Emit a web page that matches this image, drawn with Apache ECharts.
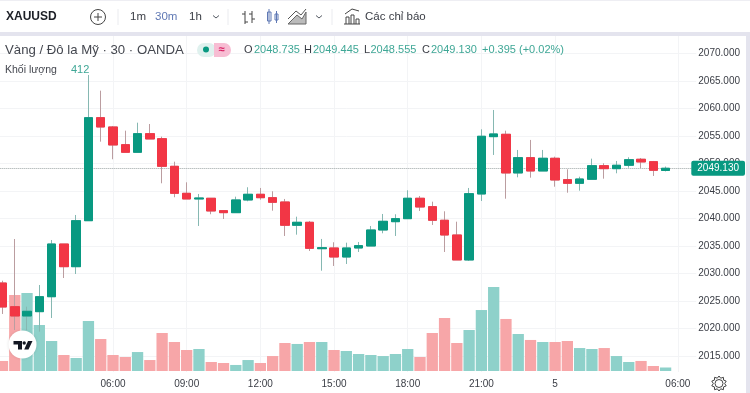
<!DOCTYPE html>
<html><head><meta charset="utf-8">
<style>html,body{margin:0;padding:0;background:#fff;overflow:hidden;width:750px;height:393px;position:relative}#c{position:absolute;left:-20px;top:0;width:770px;height:393px}</style>
<script src="https://cdn.jsdelivr.net/npm/echarts@6/dist/echarts.min.js"></script>
</head><body><div id="c"></div>
<script>
const FONT = '"Liberation Sans", Arial, sans-serif';
const xLabels = ['','','','','','','','','','06:00','','','','','','09:00','','','','','','12:00','','','','','','15:00','','','','','','18:00','','','','','','21:00','','','','','','5','','','','','','','','','','06:00',''];
const priceTicks = [2015,2020,2025,2030,2035,2040,2045,2050,2055,2060,2065,2070];
const lastPrice = 2049.13;
const opens = [2028.27,2023.97,2022.27,2023.06,2025.78,2035.36,2031.24,2039.6,2058.33,2056.64,2053.42,2052.04,2055.42,2054.51,2049.49,2044.58,2043.55,2043.68,2041.42,2041.06,2043.37,2044.4,2043.78,2043.0,2038.77,2039.31,2034.51,2034.64,2033.0,2034.64,2035.0,2037.91,2039.42,2039.97,2043.68,2042.15,2039.68,2037.0,2032.46,2044.46,2054.88,2055.31,2048.28,2051.06,2048.64,2050.95,2047.06,2046.4,2047.13,2049.6,2049.06,2049.68,2050.77,2050.33,2048.735];
const closes = [2023.91,2022.27,2023.13,2025.78,2035.36,2031.24,2039.6,2058.33,2056.64,2053.37,2052.04,2055.42,2054.46,2049.49,2044.58,2043.55,2043.73,2041.37,2041.06,2043.37,2044.4,2043.78,2042.95,2038.77,2039.31,2034.58,2034.69,2033.0,2034.64,2035.06,2037.91,2039.49,2039.97,2043.68,2042.09,2039.68,2037.0,2032.46,2044.51,2054.95,2055.37,2048.28,2051.06,2048.64,2050.95,2047.0,2046.4,2047.18,2049.6,2049.06,2049.68,2050.69,2050.28,2048.77,2049.13];
const lows = [2022.64,2019.73,2019.73,2019.42,2021.91,2029.18,2029.91,2039.6,2053.97,2050.77,2052.04,2052.04,2054.46,2046.4,2043.86,2043.55,2038.64,2040.77,2039.91,2041.06,2043.13,2043.42,2041.42,2036.82,2037.06,2034.09,2030.51,2031.37,2031.73,2033.91,2035.0,2037.31,2036.82,2039.97,2041.37,2038.82,2033.91,2032.46,2032.28,2043.18,2051.55,2043.6,2047.49,2047.42,2048.64,2045.78,2044.69,2045.06,2047.13,2047.24,2048.22,2049.24,2049.18,2047.73,2048.555];
const highs = [2028.69,2036.27,2023.97,2027.91,2036.09,2035.36,2040.64,2066.09,2063.24,2056.82,2055.97,2057.42,2057.18,2054.88,2050.33,2046.58,2044.46,2043.68,2041.42,2043.97,2045.68,2045.55,2044.95,2043.55,2040.33,2039.55,2036.28,2035.68,2035.6,2035.73,2038.64,2040.82,2040.77,2045.13,2044.09,2043.06,2041.31,2039.42,2045.55,2056.22,2059.73,2055.97,2052.46,2054.28,2052.46,2051.24,2048.95,2047.6,2050.88,2050.04,2050.46,2051.13,2051.0,2050.46,2049.445];
const volumes = [1180,8940,9170,5410,3530,1880,1530,5880,3760,1880,1650,2230,1290,4470,3410,2470,2590,1060,940,710,1290,940,1760,3290,3180,3410,3410,2470,2350,2000,1880,1760,2000,2590,1650,4470,6230,3290,4820,7170,9880,6120,4350,3650,3410,3410,3530,2700,2590,2700,1760,1060,1180,590,412];

const GREEN='#089981', RED='#F23645', GREEN_V='#8ed1ca', RED_V='#f7a6a8', WICK_G='#86b8b2', WICK_R='#bb9da0', GRID='#f3f4f6', TXT='#3a3d45', TEAL='#3fa796';

function t(x,y,text,size,color,extra){return {type:'text',silent:true,z:50,x:x,y:y,style:Object.assign({text:text,fontSize:size,fill:color,fontFamily:FONT,verticalAlign:'middle'},extra||{})};}
function l(x1,y1,x2,y2,color,w){return {type:'line',silent:true,z:50,shape:{x1,y1,x2,y2},style:{stroke:color,lineWidth:w||1,fill:null}};}
function r(x,y,w,h,color,rad){return {type:'rect',silent:true,z:49,shape:{x,y,width:w,height:h,r:rad||0},style:{fill:color}};}
function box(x,y,w,h,color){return {type:'rect',silent:true,z:50,shape:{x,y,width:w,height:h},style:{stroke:color,fill:'none'}};}
function pl(points,color){return {type:'polyline',silent:true,z:50,shape:{points},style:{stroke:color,fill:'none',lineWidth:1}};}
function pg(points,fill,stroke,z){return {type:'polygon',silent:true,z:z||50,shape:{points},style:{fill,stroke:stroke||'none',lineWidth:1}};}
const CH='#555a63';
const gear=[[719,376],[720.7,378.2],[723.4,377.3],[723.6,380.1],[726.2,381.1],[724.7,383.5],[726.2,385.9],[723.6,386.9],[723.4,389.7],[720.7,388.8],[719,391],[717.3,388.8],[714.6,389.7],[714.4,386.9],[711.8,385.9],[713.3,383.5],[711.8,381.1],[714.4,380.1],[714.6,377.3],[717.3,378.2]];
const graphic=[
 r(0,0,750,1,'#eeeef3'), r(0,32,750,4,'#e4e4ee'), r(746,36,4,357,'#e4e4ee'),
 t(6,17,'XAUUSD',12,'#1c1f26',{fontWeight:'bold'}),
 {type:'circle',silent:true,z:50,shape:{cx:98,cy:17,r:7.5},style:{stroke:'#444',fill:'none',lineWidth:1}},
 l(98,13,98,21,'#444'), l(94,17,102,17,'#444'),
 l(118,9,118,25,'#eaebef'),
 t(130,17,'1m',11.5,TXT), t(155,17,'30m',11.5,'#5f78b4'), t(189,17,'1h',11.5,TXT),
 pl([[213,15.5],[216,18],[219,15.5]],CH),
 l(228,9,228,25,'#eaebef'),
 l(245,11,245,24,'#444'), l(245,14,242,14,'#444'), l(245,22,248,22,'#444'),
 l(252,11,252,23,'#444'), l(252,14,249,14,'#444'), l(252,19,255,19,'#444'),
 box(267.5,12,3.5,9,'#5f78b4'), l(269,9,269,24,'#5f78b4'),
 box(275,14,3,6,'#5f78b4'), l(276.5,11,276.5,23,'#5f78b4'),
 pg([[288,24],[297,15],[302,19],[306,12],[306,24]],'#bbb','#666'),
 pl([[288,19],[296,11],[301,15],[306,9]],'#555'),
 pl([[316,15.5],[319,18],[322,15.5]],CH),
 l(332,9,332,25,'#eaebef'),
 pl([[346,24],[346,17],[349,17],[349,24]],'#444'), pl([[351,24],[351,15],[354,15],[354,24]],'#444'), pl([[356,24],[356,19],[359,19],[359,24]],'#444'),
 l(344,24,360,24,'#444'), pl([[345,14],[352,9],[359,11]],'#444'),
 t(365,17,'Các chỉ báo',11.5,TXT),
 t(5,50,'Vàng / Đô la Mỹ · 30 · OANDA',13.2,'#44474f'),
 r(197,43,19,14,'#dff1ee',7), r(214,43,17,14,'#f7bdd3',7), r(214,43,8,14,'#f7bdd3'),
 {type:'circle',silent:true,z:50,shape:{cx:206,cy:49.5,r:3},style:{fill:GREEN}},
 t(218.5,49.5,'≈',11,'#d81b60',{fontWeight:'bold'}),
 t(244,50,'O',11,TXT), t(254,50,'2048.735',11,TEAL),
 t(304,50,'H',11,TXT), t(313,50,'2049.445',11,TEAL),
 t(364,50,'L',11,TXT), t(370.5,50,'2048.555',11,TEAL),
 t(422,50,'C',11,TXT), t(431,50,'2049.130',11,TEAL),
 t(482,50,'+0.395 (+0.02%)',11,TEAL),
 t(5,70,'Khối lượng',10.5,'#44474f'), t(71,70,'412',11,TEAL),
 {type:'circle',silent:true,z:48,shape:{cx:22.5,cy:344.5,r:14},style:{fill:'#fff',shadowBlur:3,shadowColor:'rgba(0,0,0,0.12)'}},
 pg([[13.5,341],[22,341],[22,349.5],[18,349.5],[18,344.5],[13.5,344.5]],'#131722'),
 {type:'circle',silent:true,z:50,shape:{cx:24.2,cy:343,r:1.7},style:{fill:'#131722'}},
 pg([[28,341],[32.5,341],[28.5,349.5],[24.2,349.5]],'#131722'),
 pg(gear,'#fff','#444'),
 {type:'circle',silent:true,z:51,shape:{cx:719,cy:383.5,r:4},style:{fill:'#fff',stroke:'#444'}}
];

const ohlc = opens.map((o,i)=>[o,closes[i],lows[i],highs[i]]);
const bodies = opens.map((o,i)=>[o,closes[i],Math.min(o,closes[i]),Math.max(o,closes[i])]);
const volData = volumes.map((v,i)=>({value:v,itemStyle:{color:closes[i]>=opens[i]?GREEN_V:RED_V}}));

const chart=echarts.init(document.getElementById('c'),null,{renderer:'canvas'});
chart.setOption({
 animation:false, backgroundColor:'#fff',
 graphic:{elements:[{type:'group',x:20,y:0,silent:true,z:50,children:graphic}]},
 grid:[{left:16.34,width:699.96,top:36,height:336},{left:16.34,width:699.96,top:271,height:100}],
 xAxis:[
  {type:'category',gridIndex:0,data:xLabels,boundaryGap:true,
   axisLine:{show:false},axisTick:{show:false,alignWithLabel:true,interval:(i,v)=>v!==''},
   axisLabel:{show:true,interval:(i,v)=>v!=='',color:'#3a3d45',fontSize:10,fontFamily:FONT,margin:7},
   splitLine:{show:true,alignWithLabel:true,interval:(i,v)=>v!=='',lineStyle:{color:GRID,width:1}}},
  {type:'category',gridIndex:1,data:xLabels,boundaryGap:true,axisLine:{show:false},axisTick:{show:false},axisLabel:{show:false},splitLine:{show:false}}
 ],
 yAxis:[
  {type:'value',gridIndex:0,position:'right',min:2012.09,max:2073.18,
   axisLine:{show:false},axisTick:{show:false,customValues:priceTicks},
   axisLabel:{customValues:priceTicks,formatter:v=>v.toFixed(3),color:'#3a3d45',fontSize:10,fontFamily:FONT,margin:2,showMinLabel:true,showMaxLabel:true},
   splitLine:{show:true,lineStyle:{color:GRID,width:1}}},
  {type:'value',gridIndex:1,min:0,max:11760,show:false,splitLine:{show:false}}
 ],
 series:[
  {type:'bar',xAxisIndex:1,yAxisIndex:1,data:volData,barWidth:11.3,z:1,silent:true},
  {type:'candlestick',xAxisIndex:0,yAxisIndex:0,data:ohlc,barWidth:9,z:3,silent:true,
   itemStyle:{color:GREEN,color0:RED,borderColor:WICK_G,borderColor0:WICK_R,borderWidth:1},
   markLine:{silent:true,symbol:'none',animation:false,z:4,
    data:[{yAxis:lastPrice}],
    lineStyle:{type:'dotted',color:'#9aa3a3',width:1},
    label:{show:true,position:'end',distance:-5,formatter:()=>lastPrice.toFixed(3),color:'#fff',backgroundColor:GREEN,padding:[3,6,2,6],borderRadius:2,fontSize:10,fontFamily:FONT}}},
  {type:'candlestick',xAxisIndex:0,yAxisIndex:0,data:bodies,barWidth:9,z:4,silent:true,
   itemStyle:{color:GREEN,color0:RED,borderColor:GREEN,borderColor0:RED,borderWidth:1}}
 ]
});
</script></body></html>
